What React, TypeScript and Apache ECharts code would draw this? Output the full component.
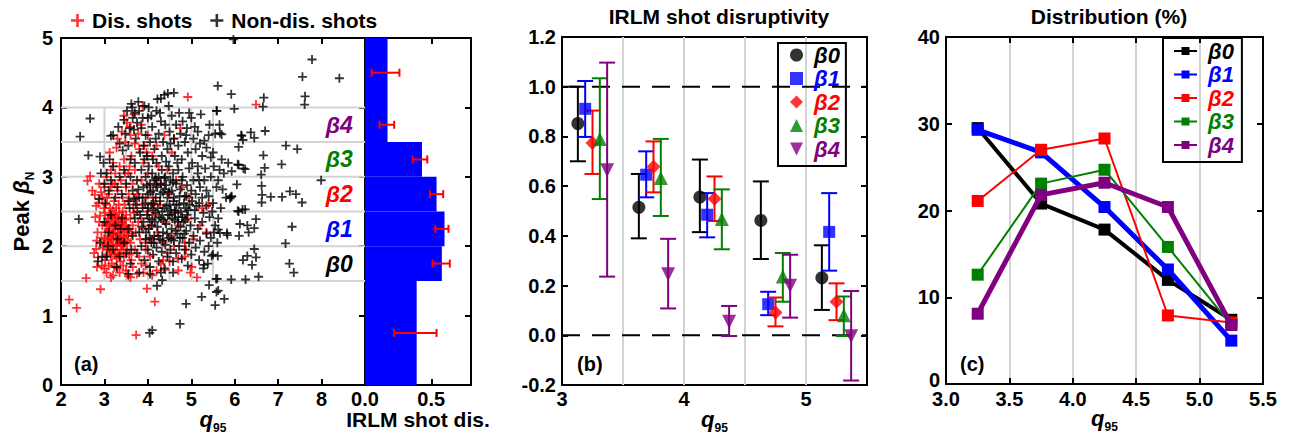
import React, { useEffect, useRef } from 'react';
import * as echarts from 'echarts';

const F = "'Liberation Sans', Arial, Helvetica, sans-serif";

// ---------- Panel (a): scatter of peak beta_N vs q95 ----------
const disShots: number[][] = [
  [2.19,1.23],[2.36,1.11],[2.58,1.54],[2.91,1.38],[3.73,0.72],[3.98,1.39],[4.16,1.20],[2.61,2.94],[2.67,3.01],[2.81,2.58],
  [2.90,2.44],[2.82,2.08],[2.81,1.96],[2.76,1.90],[2.85,1.84],[2.72,2.80],[2.78,2.74],[2.88,2.90],[5.13,1.55],[4.98,1.62],
  [4.92,4.15],[6.49,4.04],[5.01,1.70],[4.50,1.78],[4.70,1.82],[4.85,1.85],[5.40,2.60],[5.05,2.10],[4.60,2.00],[3.45,3.88],
  [3.60,3.72],[3.88,4.02],[3.30,3.55],[3.70,3.48],[4.00,3.60],[4.20,3.45],[3.15,1.55],[3.55,1.57],[3.35,1.62],[3.75,1.60],
  [4.10,1.58],[3.95,1.72],[4.40,1.66],[4.30,1.75],
  [3.00,2.10],[3.02,2.20],[3.05,2.30],[3.08,2.15],[3.10,2.05],[3.12,2.25],[3.05,1.95],[3.15,1.85],[3.18,2.35],[3.20,2.10],
  [3.22,2.45],[3.25,2.00],[3.25,2.20],[3.28,2.30],[3.30,1.90],[3.30,2.10],[3.32,2.40],[3.35,2.25],[3.35,2.05],[3.38,1.95],
  [3.40,2.15],[3.40,2.35],[3.42,2.50],[3.45,2.20],[3.45,1.85],[3.48,2.05],[3.50,2.30],[3.50,2.45],[3.52,1.95],[3.55,2.15],
  [3.58,2.25],[3.60,2.05],[3.60,2.40],[3.62,1.80],[3.65,2.30],[3.08,2.40],[3.13,2.55],[3.03,2.60],[3.17,1.75],[3.23,1.70],
  [3.12,1.95],[3.18,2.18],[3.27,2.55],[3.33,2.60],[3.37,1.78],[3.43,1.72],[3.28,1.82],[3.02,1.80],[2.98,2.02],[2.95,2.30],
  [3.07,2.08],[3.14,2.12],[3.21,2.28],[3.26,2.12],[3.31,2.18],[3.36,2.32],[3.41,2.02],[3.47,2.38],[3.53,2.08],[3.57,1.88],
  [3.63,2.18],[3.68,2.48],[3.70,1.95],[3.72,2.20],[3.75,2.60],[3.78,2.35],[3.80,1.85],[3.82,2.10],
  [3.04,2.34],[3.09,2.22],[3.11,2.45],[3.16,2.02],[3.19,2.52],[3.24,2.38],[3.29,2.02],[3.34,2.48],[3.39,2.08],[3.44,2.28],
  [3.06,1.88],[3.14,1.92],[3.24,1.88],[3.34,1.88],[3.44,1.95],[3.01,2.48],[3.16,2.42],[3.26,2.42],[3.36,2.12],[3.46,2.12],
  [3.11,2.32],[3.21,2.18],[3.31,2.28],[3.41,2.42],[3.51,2.22],
  [2.95,2.70],[3.00,2.85],[3.05,3.00],[3.10,2.75],[3.15,3.10],[3.18,2.90],[3.22,2.65],[3.25,3.05],[3.30,2.80],[3.35,3.15],
  [3.38,2.95],[3.42,2.70],[3.45,3.25],[3.50,2.85],[3.55,3.05],[3.58,2.65],[3.62,3.30],[3.65,2.90],[3.70,3.10],[3.75,2.75],
  [3.80,3.40],[3.85,2.95],[3.90,3.20],[3.95,2.70],[4.00,3.05],[4.05,2.85],[4.10,3.30],[4.15,2.60],[4.20,2.95],[4.25,3.15],
  [3.12,3.35],[3.20,3.20],[3.28,3.42],[3.48,3.50],[3.60,3.60],[3.78,3.62],[3.92,3.45],[3.68,3.90],[3.52,3.78],[3.40,3.65],
  [3.85,3.75],[3.97,3.35],
  [3.05,1.62],[3.20,1.58],[3.30,1.68],[3.50,1.65],[3.65,1.70],[3.85,1.75],[3.90,1.62],[4.05,1.85],[4.20,1.65],[4.35,1.80],
  [4.45,1.90],[3.10,1.72],[3.60,1.55],[3.95,1.95],
  [4.05,2.30],[4.10,2.10],[4.15,2.45],[4.22,2.20],[4.28,2.60],[4.35,2.05],[4.40,2.35],[4.48,2.75],[4.55,2.15],[4.62,2.50],
  [4.70,2.30],[4.78,2.85],[4.85,2.05],[4.92,2.40],[4.00,2.50],[3.90,2.25],[3.95,2.05],[3.88,2.60],[3.85,2.40],[4.12,2.70],
  [4.30,2.90],[4.45,3.10],[4.55,3.35],[4.65,2.95],[4.38,3.60],[4.75,3.70],[4.60,3.55],[5.20,2.30],[5.35,2.20],[4.88,1.95],
  [4.70,1.65],[4.95,2.70],[5.25,2.55],
  [2.84,2.20],[2.88,2.35],[2.93,2.12],[2.96,1.98],[2.86,2.62],[2.92,2.78],[2.99,2.55],[2.79,2.42],[2.94,1.72],[2.83,1.70],
  [3.00,1.68],[3.06,2.70],[3.14,2.85],[3.24,2.90],[3.46,2.60],[3.56,2.75],[3.66,2.55],[3.71,2.70],[3.47,3.05],[3.58,3.15]
];

const nonDisShots: number[][] = [
  [5.97,4.98],[7.78,4.69],[7.56,4.44],[8.41,4.42],[7.62,4.16],[7.61,4.04],[5.61,4.31],[5.92,4.19],[6.67,4.14],[6.65,4.01],
  [5.99,3.98],[5.59,3.95],[4.60,4.21],[4.46,4.20],[4.30,4.13],[3.64,4.00],[2.44,3.58],[2.67,3.84],[2.41,2.39],[2.63,3.31],
  [2.90,3.29],[3.15,3.59],[6.70,3.66],[6.37,3.64],[6.45,3.56],[6.15,3.60],[6.19,3.53],[7.18,3.45],[7.44,3.40],[7.08,3.18],
  [7.99,2.95],[6.66,3.31],[6.69,3.13],[6.61,3.03],[6.07,3.18],[6.24,3.11],[6.62,2.87],[6.63,2.74],[6.62,2.63],[6.83,2.71],
  [7.09,2.71],[7.27,2.79],[7.41,2.75],[7.55,2.63],[7.32,2.28],[7.17,2.04],[7.26,1.75],[7.36,1.62],[5.92,2.71],[6.07,2.51],
  [6.18,2.53],[6.12,2.32],[6.32,2.20],[6.29,2.30],[6.49,2.39],[6.45,2.26],[6.10,2.15],[6.45,1.96],[6.49,1.84],[6.40,1.73],
  [6.19,1.80],[6.29,1.86],[6.55,1.56],[6.25,1.52],[5.92,1.52],[5.60,1.53],[5.24,1.27],[5.41,1.44],[5.58,1.34],[5.62,1.36],
  [5.55,1.15],[5.76,1.24],[4.88,1.17],[4.74,0.88],[4.04,0.75],[4.10,0.79],[4.21,1.43],[4.33,1.51],[5.29,1.73],[5.65,3.75],
  [5.70,3.61],[5.66,3.63],[6.16,3.59],[6.09,3.43],[6.09,3.17],[6.20,3.12],[5.93,3.08],[6.05,2.89],[5.93,2.72],[5.89,2.69],
  [6.24,2.53],[6.09,2.50],[5.62,2.40],[5.62,2.24],[5.82,2.19],[5.83,2.16],[5.66,2.19],[5.61,1.86],[5.47,1.86],[5.57,1.53],
  [3.20,3.60],[3.45,3.82],[3.58,3.70],[3.62,4.05],[3.65,3.85],[3.70,3.92],[3.75,3.78],[3.80,3.95],[3.85,3.70],[3.72,3.55],
  [3.90,3.45],[3.95,3.60],[4.00,3.85],[4.05,3.50],[4.10,3.72],[4.15,3.40],[4.20,3.95],[4.22,4.12],[4.25,3.62],[4.30,3.80],
  [4.35,3.50],[4.38,4.18],[4.40,3.75],[4.45,3.40],[4.50,3.65],[4.48,4.02],[4.55,3.88],[4.60,3.55],[4.65,3.75],[4.70,3.45],
  [4.75,3.62],[4.80,3.80],[4.85,3.50],[4.90,3.70],[4.95,3.92],[5.00,3.85],[5.05,3.55],[5.10,3.40],[5.15,3.65],[5.20,3.48],
  [5.30,3.52],[5.40,3.60],[5.50,3.35],[5.25,3.30],[5.35,3.42],[4.32,3.30],[4.12,3.25],[3.98,3.30],[3.82,3.35],[3.55,3.45],
  [3.42,3.38],[3.35,3.48],[3.60,3.25],[4.62,3.30],[4.78,3.25],[4.92,3.35],[5.02,3.20],[5.15,3.15],[5.45,3.28],[5.55,3.62],
  [5.58,3.95],[4.18,3.55],[4.02,4.00],[3.92,4.02],
  [3.00,2.90],[3.05,3.05],[3.10,2.80],[3.15,2.95],[3.20,3.15],[3.25,2.70],[3.30,2.85],[3.35,3.00],[3.40,2.75],[3.45,3.10],
  [3.50,2.90],[3.55,2.65],[3.60,3.00],[3.65,2.80],[3.70,3.20],[3.75,2.95],[3.80,2.70],[3.85,3.10],[3.90,2.85],[3.95,3.00],
  [4.00,2.75],[4.02,3.15],[4.05,2.90],[4.08,2.60],[4.10,3.05],[4.12,2.80],[4.15,2.95],[4.18,2.70],[4.20,3.20],[4.22,2.85],
  [4.25,3.00],[4.28,2.65],[4.30,2.90],[4.32,3.10],[4.35,2.78],[4.38,2.55],[4.40,3.00],[4.42,2.88],[4.45,2.70],[4.48,3.15],
  [4.50,2.60],[4.52,2.95],[4.55,2.80],[4.58,3.05],[4.60,2.70],[4.65,2.90],[4.70,3.10],[4.72,2.60],[4.75,2.82],[4.80,3.00],
  [4.85,2.72],[4.90,2.88],[4.95,3.12],[5.00,2.80],[5.02,2.65],[5.05,2.95],[5.10,2.75],[5.15,3.05],[5.20,2.85],[5.25,2.70],
  [5.30,2.95],[5.35,2.80],[5.40,2.72],[5.45,3.00],[5.50,2.62],[5.58,2.85],[5.62,2.95],[5.65,3.10],[5.70,3.25],[5.75,3.05],
  [5.80,2.70],[5.85,3.20],[5.72,2.82],[5.68,2.55],[3.72,2.60],[3.88,2.55],[4.12,2.52],[4.62,2.52],[4.88,2.55],[5.12,2.58],
  [3.92,3.25],[4.42,3.22],[4.68,3.20],[3.58,2.55],
  [3.00,2.35],[3.05,1.85],[3.10,2.20],[3.15,2.45],[3.20,1.95],[3.25,2.30],[3.30,2.10],[3.35,1.85],[3.40,2.40],[3.45,2.05],
  [3.50,1.90],[3.55,2.25],[3.60,1.75],[3.65,2.15],[3.70,2.40],[3.75,1.90],[3.80,2.20],[3.85,2.00],[3.90,2.35],[3.92,1.80],
  [3.95,2.10],[3.98,2.45],[4.00,1.95],[4.02,2.25],[4.05,1.70],[4.08,2.05],[4.10,2.38],[4.12,1.88],[4.15,2.15],[4.18,2.48],
  [4.20,1.98],[4.22,2.28],[4.25,1.78],[4.28,2.10],[4.30,2.40],[4.32,1.92],[4.35,2.20],[4.38,1.68],[4.40,2.02],[4.42,2.32],
  [4.45,1.85],[4.48,2.12],[4.50,2.45],[4.52,1.95],[4.55,2.25],[4.58,1.78],[4.60,2.08],[4.62,2.38],[4.65,1.90],[4.68,2.18],
  [4.70,2.42],[4.72,2.00],[4.75,2.28],[4.78,1.82],[4.80,2.12],[4.82,2.35],[4.85,1.95],[4.88,2.22],[4.90,2.45],[4.92,1.72],
  [4.95,2.05],[4.98,2.30],[5.00,1.88],[5.05,2.15],[5.08,2.40],[5.10,1.98],[5.15,2.25],[5.18,1.80],[5.20,2.08],[5.25,2.35],
  [5.30,1.92],[5.35,2.18],[5.40,2.00],[5.45,2.12],[5.50,1.88],[5.38,1.75],[5.28,1.68],[4.05,1.60],[4.30,1.62],[3.80,1.62],
  [4.58,1.62],[3.55,1.60],[3.62,1.95],[3.38,2.25],[3.28,1.70],
  [3.82,2.45],[3.88,2.70],[3.94,2.62],[4.00,2.55],[4.03,2.40],[4.06,2.78],[4.09,2.30],[4.12,2.62],[4.16,2.35],[4.19,2.88],
  [4.23,2.55],[4.26,2.42],[4.29,2.75],[4.33,2.50],[4.36,2.38],[4.39,2.82],[4.43,2.58],[4.46,2.45],[4.49,2.78],[4.53,2.52],
  [4.56,2.40],[4.59,2.65],[4.63,2.48],[4.66,2.60],[4.69,2.35],[4.73,2.72],[4.76,2.50],[4.79,2.42],[4.83,2.62],[4.86,2.38],
  [4.89,2.72],[4.93,2.52],[4.96,2.60],[3.96,2.20],[4.04,2.12],[4.14,2.05],[4.24,2.15],[4.34,2.08],[4.44,2.18],[4.54,2.10],
  [4.64,2.22],[4.74,2.12],[4.84,2.18],[3.86,2.28],[3.76,2.50],[3.68,2.68],[3.78,2.82],[3.98,2.88],[4.18,2.98],[4.38,2.98],
  [4.58,2.92],[4.78,2.95],[5.08,2.52],[5.18,2.62],[5.28,2.48],[5.48,2.50],[5.55,2.30],[5.60,2.05],
  [2.90,2.05],[2.95,1.85],[2.88,2.68],[3.02,2.62],[2.98,3.20],[3.08,2.00],[3.12,3.25],[2.85,1.78],[2.92,3.05],
  [3.32,3.72],[3.48,3.62],[3.52,3.95],[3.68,3.68],[3.78,4.08],[3.88,3.85],[4.08,3.88],[4.28,3.92],[4.52,3.48],[4.72,3.92],
  [4.88,3.60],[5.08,3.72],[5.22,3.90],[5.42,3.75],[5.52,3.15],[5.32,3.12],[5.18,2.95],[5.42,2.42],[5.52,2.20],[5.35,2.58]
];

const qEdges = [3, 3.5, 4, 4.5, 5, 5.5];
const betaEdges = [1.5, 2, 2.5, 3, 3.5, 4];
const betaNames = ['β0', 'β1', 'β2', 'β3', 'β4'];
const betaColors = ['#000000', '#0000ff', '#ff0000', '#008000', '#800080'];
const betaLabelQ = [8.72, 8.72, 8.72, 8.72, 8.72];
const betaLabelY = [1.75, 2.25, 2.75, 3.25, 3.75];

// ---------- Histogram: IRLM shot disruptivity vs beta ----------
const histLo = [0, 1.5, 2, 2.5, 3, 3.5];
const histHi = [1.5, 2, 2.5, 3, 3.5, 5];
const histVal = [0.39, 0.58, 0.60, 0.54, 0.43, 0.17];
const histErrBeta = [0.75, 1.75, 2.25, 2.75, 3.25, 3.75, 4.5];
const histErrLo = [0.22, 0.51, 0.53, 0.49, 0.36, 0.11, 0.05];
const histErrHi = [0.54, 0.64, 0.63, 0.59, 0.47, 0.22, 0.26];

// ---------- Panel (b) ----------
const qCenters = [3.25, 3.75, 4.25, 4.75, 5.25];
const betaOffsets = [-0.12, -0.06, 0, 0.06, 0.12];
const disrupt = [
  [0.852, 0.515, 0.556, 0.462, 0.231],
  [0.911, 0.646, 0.485, 0.125, 0.416],
  [0.774, 0.678, 0.549, 0.092, 0.135],
  [0.790, 0.633, 0.468, 0.236, 0.081],
  [0.664, 0.246, 0.054, 0.199, -0.004]
];
const disruptLo = [
  [0.700, 0.390, 0.415, 0.307, 0.102],
  [0.798, 0.555, 0.394, 0.081, 0.260],
  [0.649, 0.575, 0.460, 0.036, 0.061],
  [0.548, 0.480, 0.346, 0.135, -0.003],
  [0.236, 0.108, -0.003, 0.071, -0.182]
];
const disruptHi = [
  [1.000, 0.649, 0.707, 0.619, 0.362],
  [1.023, 0.740, 0.572, 0.175, 0.572],
  [0.904, 0.780, 0.639, 0.152, 0.209],
  [1.034, 0.790, 0.587, 0.331, 0.156],
  [1.097, 0.388, 0.118, 0.324, 0.178]
];
const refLevels = [0, 1];
const bSymbols = ['circle', 'rect', 'diamond', 'triangle', 'path://M0,0L10,0L5,10Z'];
const bSymbolSizes = [13, 12, 14, 14, 14];

// ---------- Panel (c) ----------
const distribution = [
  [29.5, 20.8, 17.8, 12.0, 7.4],
  [29.3, 26.7, 20.4, 13.2, 5.0],
  [21.1, 27.0, 28.3, 7.9, 7.1],
  [12.6, 23.1, 24.7, 15.8, 6.8],
  [8.1, 21.8, 23.2, 20.4, 6.8]
];
const cLineWidths = [4, 5, 2, 2, 5];

const PLUS = 'path://M4,0H6V4H10V6H6V10H4V6H0V4H4Z';
const GRAY = '#d3d3d3';

const axLine = { show: true, onZero: false, lineStyle: { color: '#000', width: 2 } };
const tickIn = { show: true, inside: true, length: 6, lineStyle: { color: '#000', width: 2 } };
const lab = { fontFamily: F, fontWeight: 'bold', fontSize: 20, color: '#000' };
const xLab = { ...lab, margin: 6, lineHeight: 16 };
const qName = {
  name: '{q|q}{s|95}',
  nameLocation: 'middle',
  nameGap: 23,
  nameMoveOverlap: false,
  nameTextStyle: {
    rich: {
      q: { fontFamily: F, fontStyle: 'italic', fontWeight: 'bold', fontSize: 22, color: '#000', padding: [0, 0, 4, 0], verticalAlign: 'bottom' },
      s: { fontFamily: F, fontWeight: 'bold', fontSize: 12, color: '#000', verticalAlign: 'bottom' }
    }
  }
};

function ax(gridIndex: number, min: number, max: number, interval: number, position: string, extra: any = {}) {
  return {
    type: 'value', gridIndex, min, max, interval, position,
    axisLine: axLine, axisTick: tickIn, axisLabel: { show: false }, splitLine: { show: false },
    ...extra
  };
}

const fmt1 = (v: number) => v.toFixed(1);

function segRender(color: string, width: number, dash?: number[]) {
  return (params: any, api: any) => {
    const p1 = api.coord([api.value(0), api.value(1)]);
    const p2 = api.coord([api.value(2), api.value(3)]);
    return {
      type: 'line',
      shape: { x1: p1[0], y1: p1[1], x2: p2[0], y2: p2[1] },
      style: { stroke: color, lineWidth: width, lineDash: dash }
    };
  };
}

function vErrRender(color: string) {
  return (params: any, api: any) => {
    const x = api.value(0);
    const a = api.coord([x, api.value(1)]);
    const b = api.coord([x, api.value(2)]);
    const c = 8;
    const st = { stroke: color, lineWidth: 2 };
    return {
      type: 'group',
      children: [
        { type: 'line', shape: { x1: a[0], y1: a[1], x2: b[0], y2: b[1] }, style: st },
        { type: 'line', shape: { x1: a[0] - c, y1: a[1], x2: a[0] + c, y2: a[1] }, style: st },
        { type: 'line', shape: { x1: b[0] - c, y1: b[1], x2: b[0] + c, y2: b[1] }, style: st }
      ]
    };
  };
}

function buildOption(): any {
  const series: any[] = [];

  // panel (a) grid lines
  const aSegs: number[][] = [];
  betaEdges.forEach((b) => aSegs.push([2, b, 9, b]));
  qEdges.forEach((q) => aSegs.push([q, betaEdges[0], q, betaEdges[betaEdges.length - 1]]));
  series.push({ type: 'custom', name: 'gridA', xAxisIndex: 0, yAxisIndex: 0, z: 1, silent: true, data: aSegs, renderItem: segRender(GRAY, 2) });

  series.push({
    type: 'scatter', name: 'Dis. shots', xAxisIndex: 0, yAxisIndex: 0, z: 3,
    symbol: PLUS, symbolSize: 9, itemStyle: { color: '#ff0000' }, data: disShots
  });
  series.push({
    type: 'scatter', name: 'Non-dis. shots', xAxisIndex: 0, yAxisIndex: 0, z: 4,
    symbol: PLUS, symbolSize: 9, itemStyle: { color: '#000000' }, data: nonDisShots
  });
  series.push({
    type: 'custom', name: 'betaLabels', xAxisIndex: 0, yAxisIndex: 0, z: 5, silent: true,
    data: betaLabelQ.map((q, i) => [q, betaLabelY[i]]),
    renderItem: (params: any, api: any) => {
      const p = api.coord([api.value(0), api.value(1)]);
      const i = params.dataIndex;
      return {
        type: 'text', x: p[0], y: p[1],
        style: {
          text: betaNames[i], fill: betaColors[i], font: `italic bold 23px ${F}`,
          textAlign: 'right', textVerticalAlign: 'middle', align: 'right', verticalAlign: 'middle'
        }
      };
    }
  });

  // histogram
  series.push({
    type: 'custom', name: 'hist', xAxisIndex: 2, yAxisIndex: 2, z: 2, silent: true,
    data: histLo.map((lo, i) => [lo, histHi[i], histVal[i]]),
    renderItem: (params: any, api: any) => {
      const a = api.coord([0, api.value(1)]);
      const b = api.coord([api.value(2), api.value(0)]);
      return { type: 'rect', shape: { x: a[0], y: a[1], width: b[0] - a[0], height: b[1] - a[1] }, style: { fill: '#0000ff' } };
    }
  });
  series.push({
    type: 'custom', name: 'histErr', xAxisIndex: 2, yAxisIndex: 2, z: 3, silent: true,
    data: histErrBeta.map((b, i) => [b, histErrLo[i], histErrHi[i]]),
    renderItem: (params: any, api: any) => {
      const y = api.value(0);
      const a = api.coord([api.value(1), y]);
      const b = api.coord([api.value(2), y]);
      const c = 4;
      const st = { stroke: '#ff0000', lineWidth: 2 };
      return {
        type: 'group', children: [
          { type: 'line', shape: { x1: a[0], y1: a[1], x2: b[0], y2: b[1] }, style: st },
          { type: 'line', shape: { x1: a[0], y1: a[1] - c, x2: a[0], y2: a[1] + c }, style: st },
          { type: 'line', shape: { x1: b[0], y1: b[1] - c, x2: b[0], y2: b[1] + c }, style: st }
        ]
      };
    }
  });

  // panel (b)
  series.push({
    type: 'custom', name: 'gridB', xAxisIndex: 4, yAxisIndex: 4, z: 1, silent: true,
    data: qEdges.slice(1, 5).map((q) => [q, -0.2, q, 1.2]), renderItem: segRender(GRAY, 2)
  });
  series.push({
    type: 'custom', name: 'refB', xAxisIndex: 4, yAxisIndex: 4, z: 1, silent: true,
    data: refLevels.map((v) => [3, v, 5.5, v]), renderItem: segRender('#000', 2, [18, 12])
  });
  for (let b = 0; b < 5; b++) {
    series.push({
      type: 'custom', name: 'errB' + b, xAxisIndex: 4, yAxisIndex: 4, z: 2, silent: true,
      data: qCenters.map((q, i) => [q + betaOffsets[b], disruptLo[b][i], disruptHi[b][i]]),
      renderItem: vErrRender(betaColors[b])
    });
  }
  for (let b = 0; b < 5; b++) {
    series.push({
      type: 'scatter', name: betaNames[b], xAxisIndex: 4, yAxisIndex: 4, z: 3,
      symbol: bSymbols[b], symbolSize: bSymbolSizes[b], itemStyle: { color: betaColors[b] },
      data: qCenters.map((q, i) => [q + betaOffsets[b], disrupt[b][i]])
    });
  }

  // panel (c)
  for (let b = 0; b < 5; b++) {
    series.push({
      type: 'line', name: 'c' + b, xAxisIndex: 6, yAxisIndex: 6, z: 3 + b,
      symbol: 'rect', symbolSize: 12, showSymbol: true,
      lineStyle: { color: betaColors[b], width: cLineWidths[b] },
      itemStyle: { color: betaColors[b] },
      data: qCenters.map((q, i) => [q, distribution[b][i]])
    });
  }

  const titleStyle = { fontFamily: F, fontWeight: 'bold', fontSize: 21, color: '#000' };
  const gridBase = { outerBoundsMode: 'none', containLabel: false };
  return {
    animation: false,
    backgroundColor: '#ffffff',
    textStyle: { fontFamily: F },
    title: [
      { text: 'IRLM shot disruptivity', left: 714, top: 1, textAlign: 'center', textStyle: titleStyle },
      { text: 'Distribution (%)', left: 1104, top: 1, textAlign: 'center', textStyle: titleStyle }
    ],
    legend: [
      {
        data: [{ name: 'Dis. shots', icon: PLUS }, { name: 'Non-dis. shots', icon: PLUS }],
        left: 66, top: 5, itemWidth: 13, itemHeight: 13, itemGap: 18, selectedMode: false,
        textStyle: { fontFamily: F, fontWeight: 'bold', fontSize: 21, color: '#000', padding: [0, 0, 0, 3] }
      },
      {
        data: betaNames.map((n, i) => ({ name: n, icon: bSymbols[i], textStyle: { color: betaColors[i] } })),
        orient: 'vertical', left: 778, top: 43, itemWidth: 13, itemHeight: 13, itemGap: 1.5, selectedMode: false,
        borderColor: '#000', borderWidth: 2, padding: [1, 6, 6, 12],
        textStyle: { fontFamily: F, fontWeight: 'bold', fontStyle: 'italic', fontSize: 22, lineHeight: 22, padding: [0, 0, 0, 6] }
      },
      {
        data: betaNames.map((n, i) => ({ name: 'c' + i, textStyle: { color: betaColors[i] } })),
        formatter: (name: string) => betaNames[Number(name.slice(1))],
        orient: 'vertical', left: 1163, top: 38, itemWidth: 23, itemHeight: 10, itemGap: 1.5, selectedMode: false,
        borderColor: '#000', borderWidth: 2, padding: [2, 8, 6, 10],
        textStyle: { fontFamily: F, fontWeight: 'bold', fontStyle: 'italic', fontSize: 22, lineHeight: 22, padding: [0, 0, 0, 6] }
      }
    ],
    grid: [
      { ...gridBase, left: 61, top: 38, width: 304, height: 347 },
      { ...gridBase, left: 365, top: 38, width: 106, height: 347 },
      { ...gridBase, left: 562, top: 37, width: 305, height: 348 },
      { ...gridBase, left: 946, top: 37, width: 317, height: 347 }
    ],
    xAxis: [
      ax(0, 2, 9, 1, 'bottom', { axisLabel: { ...xLab, showMaxLabel: false }, ...qName }),
      ax(0, 2, 9, 1, 'top'),
      ax(1, 0, 0.8, 0.5, 'bottom', {
        axisLabel: { ...xLab, showMaxLabel: false, formatter: fmt1 },
        name: 'IRLM shot dis.', nameLocation: 'middle', nameGap: 24, nameMoveOverlap: false,
        nameTextStyle: { fontFamily: F, fontWeight: 'bold', fontSize: 21, color: '#000', lineHeight: 21 }
      }),
      ax(1, 0, 0.8, 0.5, 'top'),
      ax(2, 3, 5.5, 1, 'bottom', { axisLabel: { ...xLab, showMaxLabel: false }, ...qName }),
      ax(2, 3, 5.5, 1, 'top'),
      ax(3, 3, 5.5, 0.5, 'bottom', {
        axisLabel: { ...xLab, margin: 7, formatter: fmt1 },
        splitLine: { show: true, lineStyle: { color: GRAY, width: 2 } }, ...qName
      }),
      ax(3, 3, 5.5, 0.5, 'top')
    ],
    yAxis: [
      ax(0, 0, 5, 1, 'left', {
        axisLabel: { ...lab, margin: 8 },
        name: '{a|Peak }{b|β}{s|N}', nameLocation: 'middle', nameGap: 25, nameRotate: 90,
        nameTextStyle: {
          rich: {
            a: { fontFamily: F, fontWeight: 'bold', fontSize: 22, color: '#000', padding: [0, 0, 4, 0], verticalAlign: 'bottom' },
            b: { fontFamily: F, fontWeight: 'bold', fontStyle: 'italic', fontSize: 22, color: '#000', padding: [0, 0, 4, 0], verticalAlign: 'bottom' },
            s: { fontFamily: F, fontWeight: 'bold', fontSize: 12, color: '#000', verticalAlign: 'bottom' }
          }
        }
      }),
      ax(0, 0, 5, 1, 'right'),
      ax(1, 0, 5, 1, 'left', { axisTick: { show: false } }),
      ax(1, 0, 5, 1, 'right'),
      ax(2, -0.2, 1.2, 0.2, 'left', { axisLabel: { ...lab, margin: 6, formatter: fmt1 } }),
      ax(2, -0.2, 1.2, 0.2, 'right'),
      ax(3, 0, 40, 10, 'left', {
        axisLabel: {
          ...lab, margin: 6,
          formatter: (v: number) => (v === 0 ? '{z|0}' : String(v)),
          rich: { z: { fontFamily: F, fontWeight: 'bold', fontSize: 20, color: '#000', padding: [0, 0, 8, 0] } }
        }
      }),
      ax(3, 0, 40, 10, 'right')
    ],
    graphic: [
      { type: 'text', left: 74, top: 354, style: { text: '(a)', font: `bold 20px ${F}`, fill: '#000' } },
      { type: 'text', left: 577, top: 354, style: { text: '(b)', font: `bold 20px ${F}`, fill: '#000' } },
      { type: 'text', left: 960, top: 354, style: { text: '(c)', font: `bold 20px ${F}`, fill: '#000' } }
    ],
    series
  };
}

export default function App() {
  const ref = useRef<HTMLDivElement>(null);
  useEffect(() => {
    if (!ref.current) return;
    const chart = echarts.init(ref.current, null, { renderer: 'svg' });
    chart.setOption(buildOption());
    return () => chart.dispose();
  }, []);
  return (
    <div
      ref={ref}
      style={{ position: 'absolute', left: 0, top: 0, width: 1289, height: 434, background: '#fff' }}
    />
  );
}
